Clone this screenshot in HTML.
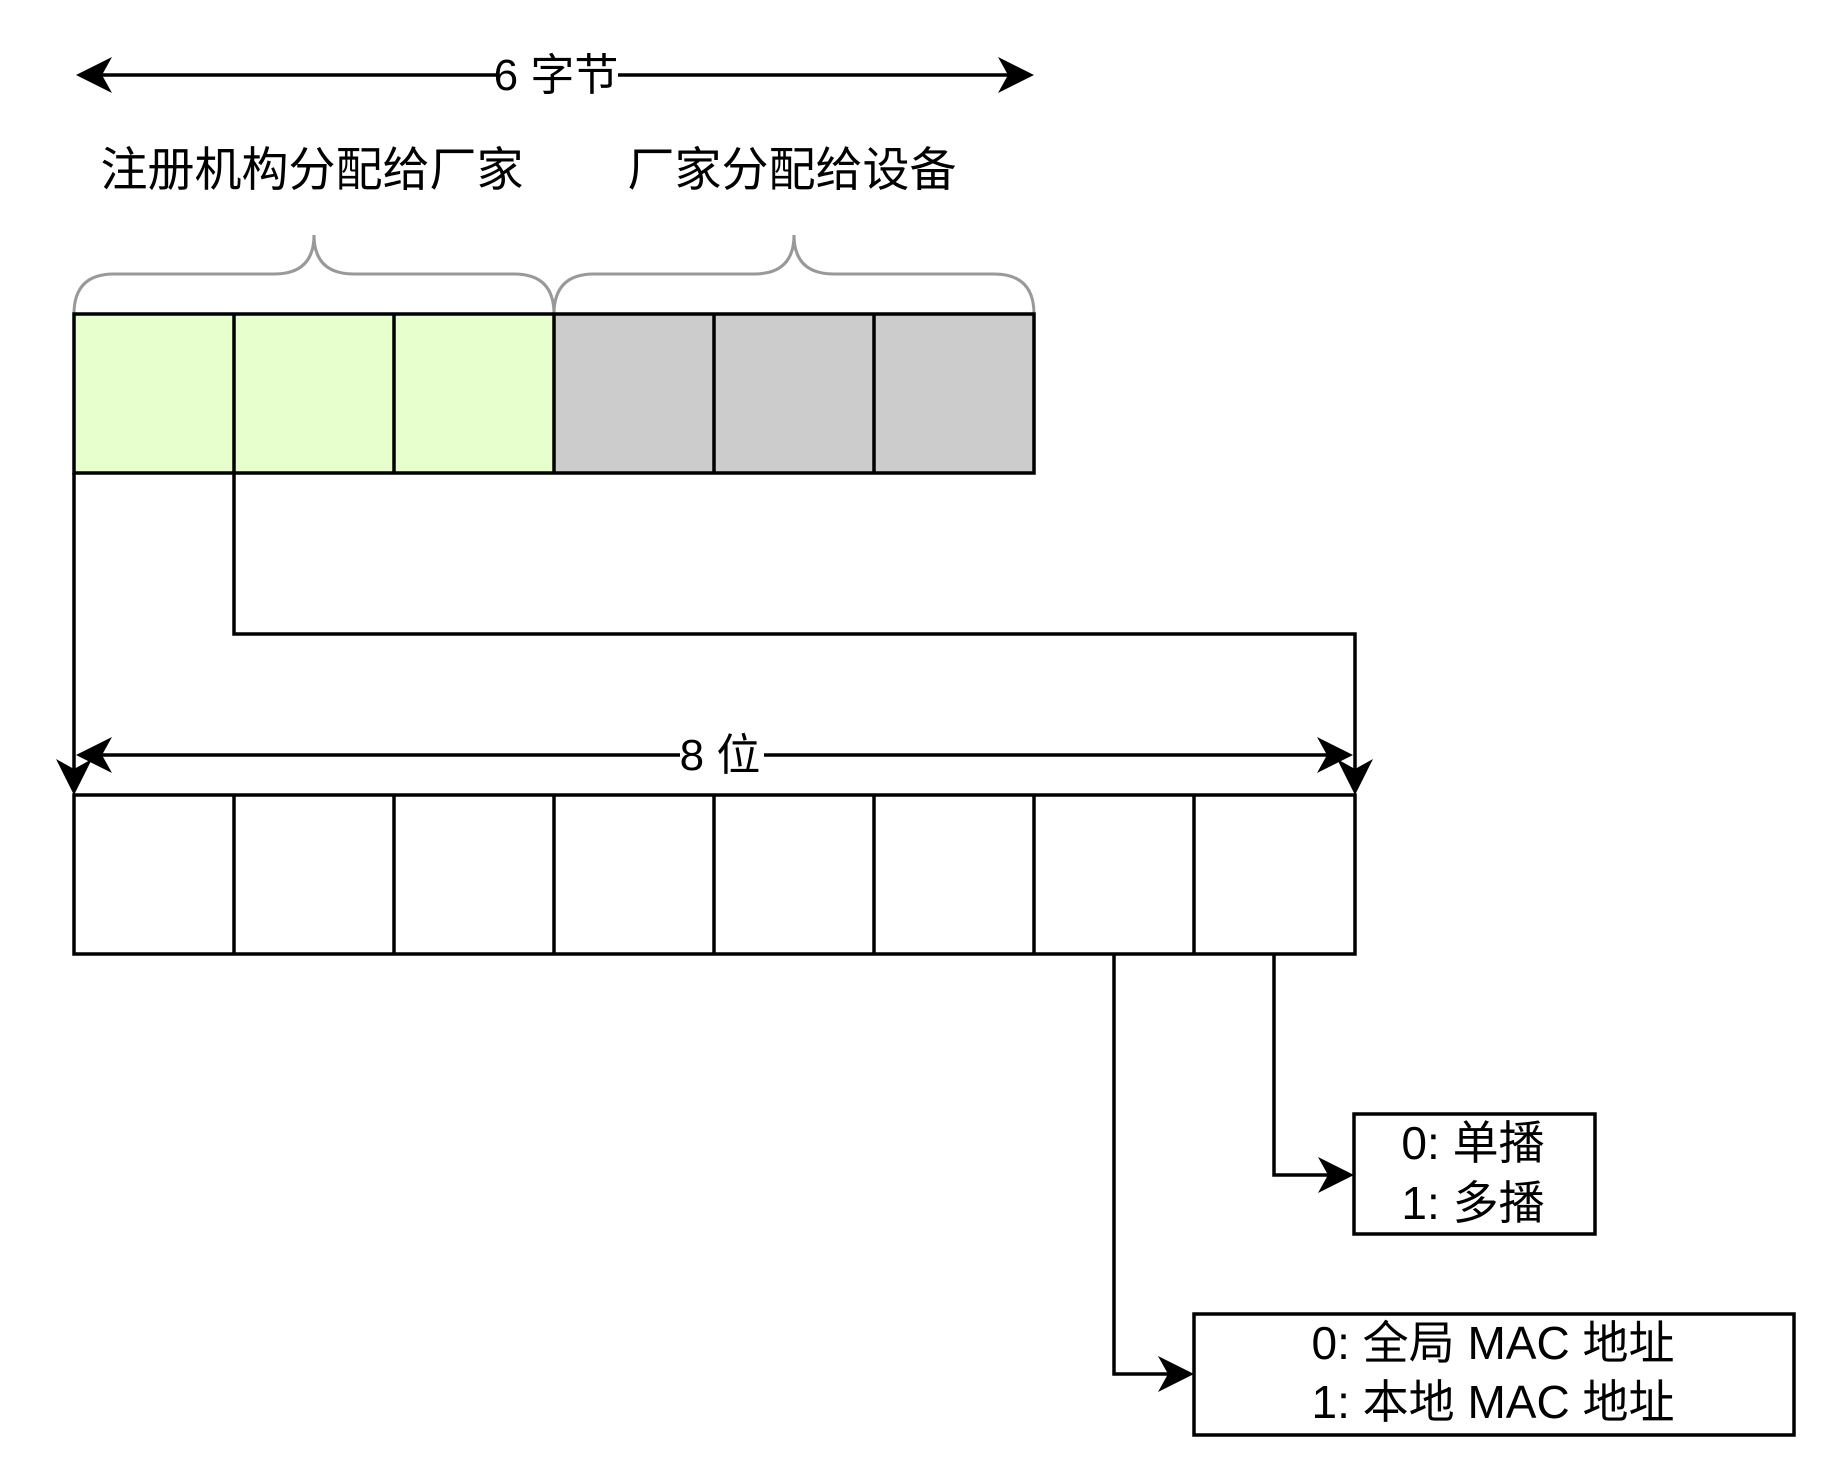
<!DOCTYPE html>
<html><head><meta charset="utf-8"><style>
html,body{margin:0;padding:0;background:#fff;}
svg{display:block;}
text{font-family:"Liberation Sans","Noto Sans CJK SC",sans-serif;fill:#000;}
</style></head><body>
<svg width="1836" height="1476" viewBox="0 0 1836 1476" xmlns="http://www.w3.org/2000/svg">
<!-- 6 bytes arrow -->
<line x1="80" y1="75" x2="496" y2="75" stroke="#000" stroke-width="3.5"/>
<line x1="618" y1="75" x2="1028" y2="75" stroke="#000" stroke-width="3.5"/>
<polygon points="76,75 112,57 102,75 112,93" fill="#000"/>
<polygon points="1034,75 998,57 1008,75 998,93" fill="#000"/>
<text x="556" y="90" font-size="44" text-anchor="middle">6 字节</text>
<!-- labels -->
<text x="312" y="186" font-size="47" text-anchor="middle">注册机构分配给厂家</text>
<text x="792" y="186" font-size="47" text-anchor="middle">厂家分配给设备</text>
<!-- braces -->
<path d="M74,314 Q74,274 114,274 L274,274 Q314,274 314,235 Q314,274 354,274 L514,274 Q554,274 554,314" fill="none" stroke="#999" stroke-width="3"/>
<path d="M554,314 Q554,274 594,274 L754,274 Q794,274 794,235 Q794,274 834,274 L994,274 Q1034,274 1034,314" fill="none" stroke="#999" stroke-width="3"/>
<!-- top row -->
<rect x="74" y="314" width="480" height="159" fill="#E6FFCC"/>
<rect x="554" y="314" width="480" height="159" fill="#CCCCCC"/>
<g stroke="#000" stroke-width="3.5" fill="none">
<rect x="74" y="314" width="960" height="159"/>
<line x1="234" y1="314" x2="234" y2="473"/><line x1="394" y1="314" x2="394" y2="473"/>
<line x1="554" y1="314" x2="554" y2="473"/><line x1="714" y1="314" x2="714" y2="473"/>
<line x1="874" y1="314" x2="874" y2="473"/>
<line x1="74" y1="473" x2="74" y2="785"/>
<polyline points="234,473 234,634 1355,634 1355,785"/>
<rect x="74" y="795" width="1281" height="159"/>
<line x1="234" y1="795" x2="234" y2="954"/><line x1="394" y1="795" x2="394" y2="954"/>
<line x1="554" y1="795" x2="554" y2="954"/><line x1="714" y1="795" x2="714" y2="954"/>
<line x1="874" y1="795" x2="874" y2="954"/><line x1="1034" y1="795" x2="1034" y2="954"/>
<line x1="1194" y1="795" x2="1194" y2="954"/>
<line x1="80" y1="755" x2="680" y2="755"/>
<line x1="764" y1="755" x2="1349" y2="755"/>
<polyline points="1114,954 1114,1374 1185,1374"/>
<polyline points="1274,954 1274,1175 1346,1175"/>
<rect x="1354" y="1114" width="241" height="120"/>
<rect x="1194" y="1314" width="600" height="121"/>
</g>
<polygon points="74,795 56,759 74,769 92,759" fill="#000"/>
<polygon points="1355,795 1337,759 1355,769 1373,759" fill="#000"/>
<polygon points="76,755 112,737 102,755 112,773" fill="#000"/>
<polygon points="1353,755 1317,737 1327,755 1317,773" fill="#000"/>
<polygon points="1354,1175 1318,1157 1328,1175 1318,1193" fill="#000"/>
<polygon points="1194,1374 1158,1356 1168,1374 1158,1392" fill="#000"/>
<text x="720" y="770" font-size="44" text-anchor="middle">8 位</text>
<text x="1473" y="1159" font-size="46" text-anchor="middle">0: 单播</text>
<text x="1473" y="1219" font-size="46" text-anchor="middle">1: 多播</text>
<text x="1493" y="1359" font-size="46" text-anchor="middle">0: 全局 MAC 地址</text>
<text x="1493" y="1418" font-size="46" text-anchor="middle">1: 本地 MAC 地址</text>
</svg>
</body></html>
